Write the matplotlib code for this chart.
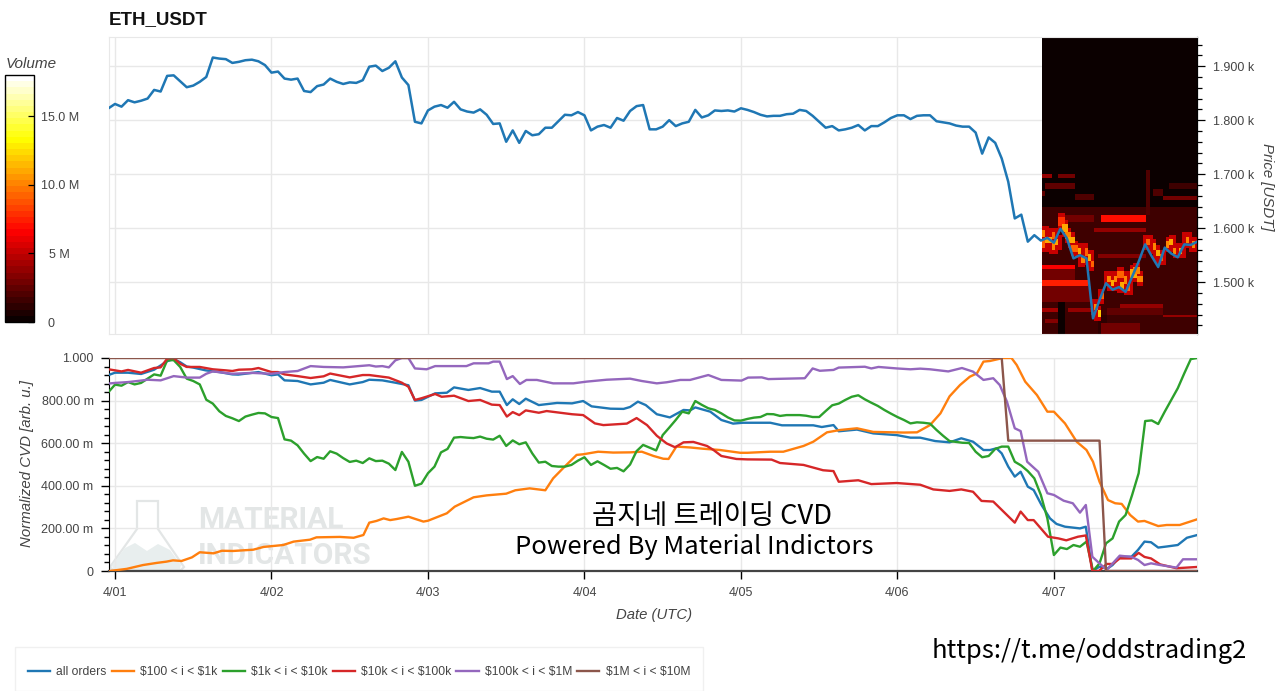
import numpy as np
import matplotlib
matplotlib.use("Agg")
import matplotlib.pyplot as plt
from matplotlib.patches import Polygon, Rectangle
from matplotlib.ticker import FixedLocator, MultipleLocator, NullFormatter

W, H = 1280, 691
plt.rcParams['font.family'] = ['Liberation Sans', 'DejaVu Sans']

# ---------- data ----------
day_ticks = [0, 24, 48, 72, 96, 120, 144]
day_labels = ['4/01', '4/02', '4/03', '4/04', '4/05', '4/06', '4/07']
price_ticks = [1500, 1600, 1700, 1800, 1900]
price_labels = ['1.500 k', '1.600 k', '1.700 k', '1.800 k', '1.900 k']
cvd_ticks = [0, .2, .4, .6, .8, 1.0]
cvd_labels = ['0', '200.00 m', '400.00 m', '600.00 m', '800.00 m', '1.000']
vol_ticks = [0, 5, 10, 15]
vol_labels = ['0', '5 M', '10.0 M', '15.0 M']

price = [1822, 1830, 1825, 1837, 1833, 1836, 1840, 1856, 1853, 1882, 1883, 1872, 1861, 1864, 1871, 1880,
         1916, 1914, 1913, 1906, 1908, 1911, 1912, 1909, 1902, 1888, 1890, 1877, 1875, 1877, 1854, 1852,
         1863, 1866, 1877, 1871, 1867, 1870, 1869, 1874, 1899, 1901, 1891, 1897, 1909, 1879, 1865, 1797,
         1794, 1818, 1825, 1828, 1823, 1834, 1820, 1816, 1814, 1820, 1810, 1793, 1794, 1760, 1781, 1758,
         1780, 1772, 1774, 1786, 1786, 1798, 1810, 1809, 1815, 1809, 1781, 1788, 1791, 1786, 1804, 1799,
         1817, 1826, 1828, 1783, 1783, 1788, 1800, 1789, 1794, 1797, 1819, 1805, 1809, 1818, 1817, 1818,
         1816, 1822, 1819, 1815, 1810, 1807, 1808, 1808, 1811, 1812, 1819, 1817, 1808, 1797, 1786, 1789,
         1781, 1783, 1786, 1791, 1781, 1789, 1789, 1796, 1804, 1809, 1809, 1802, 1808, 1809, 1809, 1798,
         1796, 1794, 1790, 1788, 1788, 1777, 1738, 1768, 1758, 1729, 1686, 1618, 1625, 1575, 1587, 1577,
         1582, 1573, 1599, 1581, 1544, 1550, 1544, 1433, 1467, 1498, 1486, 1491, 1482, 1510, 1538, 1570,
         1548, 1528, 1564, 1553, 1546, 1570, 1569, 1575]
price_hours = list(range(-1, 167))

blue_h = [-1, 0, 2, 4, 6, 8, 9, 10, 11, 12, 13.9, 16, 18, 18.9, 21, 22, 24, 25, 26, 28, 30, 32, 33, 36, 38, 39, 41, 43,
          45, 46, 47, 49.1, 50.9, 52, 54.2, 56, 57.8, 59, 60.1, 61, 62, 63, 65, 67.8, 70.1, 71.8, 73.1, 76, 78, 79,
          80.2, 81.4, 83.1, 85.1, 87.2, 88.2, 89, 91.3, 93, 94.8, 96.3, 100.5, 102.3, 107.1, 108.4, 110.2, 111, 113.8,
          116.3, 119.9, 122, 123.5, 125.8, 128, 129.8, 131.6, 133.2, 134.2, 135.2, 136, 137, 138, 138.9, 140, 140.9,
          142.1, 143.4, 144.4, 145.7, 148, 148.9, 149.9, 151, 152.3, 153, 154.1, 155.9, 156.9, 157.9, 158.9, 160,
          161.3, 163, 164.4, 166]
blue = [.92, .931, .931, .925, .945, .985, .995, .98, .96, .955, .942, .934, .923, .922, .93, .934, .919, .923, .895,
        .892, .876, .884, .897, .876, .887, .898, .895, .884, .872, .80, .803, .834, .837, .862, .85, .859, .842, .842,
        .779, .806, .784, .809, .779, .789, .787, .798, .773, .762, .761, .77, .795, .779, .736, .721, .756, .754, .768,
        .748, .709, .692, .696, .696, .684, .684, .676, .685, .656, .664, .646, .638, .626, .626, .61, .604, .623, .607,
        .568, .568, .576, .552, .49, .443, .466, .396, .38, .31, .247, .221, .208, .2, .208, 0, .02, .013, .028, .067,
        .067, .099, .138, .135, .11, .115, .122, .156, .169]

orange_h = [-.8, 1.8, 4.3, 6.4, 7.9, 8.9, 10.2, 11.8, 13, 15.1, 16.4, 18.1, 21.2, 22.8, 25.8, 27.4, 29.9, 30.9, 34.5,
            36.6, 38.1, 39, 40.1, 41.2, 42.2, 43.2, 45, 47.3, 48, 50.9, 52.1, 55, 57, 60, 61.4, 63.6, 66, 67.2, 68.8,
            70.8, 71.8, 74.1, 76.4, 79, 80.8, 82.6, 84.1, 84.9, 86.1, 88.2, 90.2, 92.8, 95.9, 97, 100.5, 102.5, 105.6,
            107.1, 109.2, 111.2, 113.8, 116.3, 121, 123, 125, 126.6, 128, 129.6, 131.1, 132.2, 133.2, 134.2, 136.2,
            137.5, 138.3, 139.6, 141.4, 143, 144, 145.7, 147.5, 149, 150, 151, 152.3, 153.4, 154.4, 155.7, 156.9,
            157.9, 160, 161.3, 163.3, 166]
orange = [0, .01, .028, .038, .044, .05, .047, .064, .088, .083, .095, .094, .10, .113, .122, .138, .147, .158, .16,
          .156, .169, .227, .235, .247, .239, .244, .255, .232, .236, .271, .302, .346, .355, .363, .379, .388, .379,
          .435, .485, .545, .548, .56, .556, .557, .56, .54, .527, .526, .584, .58, .574, .568, .555, .555, .56, .56,
          .587, .607, .651, .662, .67, .653, .65, .651, .685, .74, .82, .873, .912, .928, .983, .986, 1, 1, .967, .889,
          .826, .748, .748, .693, .607, .568, .513, .419, .333, .318, .315, .263, .232, .235, .211, .216, .216, .243]

green_h = list(range(-1, 167))
green = [.84, .875, .87, .887, .876, .883, .903, .923, .917, .989, .99, .958, .903, .892, .876, .804, .786, .75, .728,
         .717, .704, .725, .734, .742, .74, .723, .718, .618, .612, .59, .551, .516, .535, .527, .562, .551, .53, .512,
         .518, .507, .529, .516, .518, .504, .474, .559, .513, .40, .41, .459, .49, .557, .573, .626, .629, .626, .624,
         .631, .621, .617, .635, .587, .613, .595, .604, .552, .509, .513, .493, .49, .49, .498, .518, .534, .498, .515,
         .498, .48, .484, .468, .50, .563, .592, .579, .566, .638, .673, .709, .748, .74, .798, .78, .764, .756, .74,
         .721, .707, .706, .714, .72, .723, .737, .736, .728, .732, .732, .732, .729, .723, .723, .751, .778, .786,
         .803, .818, .825, .806, .79, .775, .756, .739, .723, .709, .693, .698, .696, .692, .662, .635, .61, .606, .602,
         .601, .56, .534, .54, .573, .584, .584, .513, .495, .469, .435, .357, .247, .075, .11, .103, .122, .114, .138,
         0, .036, .13, .153, .232, .263, .357, .459, .704, .707, .69, .748, .803, .858, .928, .995, 1.0]

red_h = [-1, 0, 1, 2, 4, 6, 7, 8, 9, 10, 11, 13, 15, 17, 18, 19, 21, 22, 24, 25, 26, 28, 30, 32, 33, 36, 38, 39, 42, 44,
         45, 46, 47, 49.1, 50.1, 52, 54.2, 56, 57.8, 59, 60.1, 61, 62, 63, 65, 66.2, 70.1, 71.8, 73.6, 74.9, 78.5, 80,
         81.6, 83.1, 84.6, 85.9, 87.2, 88.7, 90.8, 91.8, 93, 95.3, 97, 100.7, 102, 105.6, 108.6, 110.2, 111, 114, 116,
         119.9, 123.5, 125.5, 128, 129.8, 131.6, 132.9, 134.7, 138, 138.9, 140, 140.9, 143.1, 144.7, 145.9, 147.7, 148.9,
         149.9, 150.9, 152.1, 153, 154.1, 155.9, 157, 157.9, 158.9, 160.3, 162.8, 166]
red = [.947, .942, .937, .944, .931, .953, .956, .997, 1, .973, .958, .958, .947, .942, .939, .945, .947, .953, .934,
       .934, .923, .915, .906, .914, .927, .909, .92, .92, .908, .884, .865, .803, .811, .831, .818, .823, .798, .803,
       .781, .779, .725, .746, .732, .754, .743, .751, .736, .732, .693, .685, .692, .718, .685, .635, .599, .581, .604,
       .606, .587, .568, .54, .526, .524, .523, .507, .498, .473, .469, .419, .426, .408, .413, .405, .383, .376, .383,
       .372, .329, .326, .227, .279, .239, .239, .161, .153, .144, .161, .167, 0, 0, .033, .033, .059, .059, .085, .066,
       .059, .031, .013, .019]

purple_h = [-1, 0, 2, 4, 5, 7, 9, 11, 13, 14, 15, 18, 21, 24, 26, 28, 30, 32, 35, 39, 40, 41, 42, 43, 44, 45, 46, 47.8,
            49.1, 53.9, 55, 57.3, 58, 59, 60.1, 61, 62.1, 63.1, 64.7, 67.2, 70.3, 72.3, 75.4, 79, 80.8, 83.1, 84.6, 86.7,
            88.2, 91, 93, 96.1, 97.1, 99.2, 100.2, 105.8, 107, 108.1, 110.2, 111, 115, 116, 117.1, 119.9, 122, 123.5,
            125, 127.8, 129.9, 131.6, 133.2, 134.7, 135.7, 136.8, 138, 138.9, 139.9, 141.6, 143, 144, 145.5, 146.9, 148,
            148.9, 149.9, 150.7, 152.1, 154.1, 155.9, 156.9, 157.9, 158.9, 160.3, 162.8, 163.8, 166]
purple = [.88, .883, .887, .894, .898, .895, .915, .908, .908, .926, .937, .926, .93, .926, .934, .939, .962, .958, .956,
          .966, .96, .962, .956, .989, 1, 1, .951, .947, .962, .962, .975, .975, .983, .983, .901, .915, .878, .897, .897,
          .881, .881, .889, .898, .903, .892, .881, .886, .897, .897, .92, .897, .894, .908, .909, .901, .905, .951, .94,
          .944, .955, .959, .951, .958, .951, .947, .95, .947, .937, .953, .936, .897, .905, .873, .795, .67, .657, .513,
          .466, .365, .357, .33, .318, .274, .31, .067, .044, .005, .072, .066, .052, .028, .036, .028, .016, .055, .055]

brown_h = [-1, 136, 137, 151, 152, 166]
brown = [1, 1, .612, .612, 0, 0]

# Volume heat map (USD millions): rectangular bands
band_t0 = [142, 142, 144.6, 142, 150.8, 142.1, 144.5, 142.8, 147.2, 145.7, 151.3, 150.3, 142.1, 142.1, 142.1, 142.1, 146.2,
           142.3, 142.9, 154.2, 152, 160.8, 150.5, 159, 160.5, 161.5, 158, 142.1, 151, 158, 158]
band_t1 = [166, 166, 145.5, 166, 152, 143.8, 147.2, 147.2, 150, 150.3, 158, 158, 147.2, 147.2, 149, 149.6, 149.6,
           144.5, 144.7, 160.8, 160.8, 166, 158, 160.5, 166, 166, 158.5, 142.6, 157, 158.3, 158.2]
band_p0 = [1400, 1640, 1400, 1740, 1400, 1692, 1692, 1672, 1652, 1613, 1613, 1593, 1524, 1504, 1493, 1463, 1444,
           1444, 1424, 1452, 1440, 1435, 1544, 1662, 1652, 1674, 1623, 1660, 1405, 1600, 1723]
band_p1 = [1640, 1740, 1463, 1960, 1440, 1702, 1702, 1683, 1663, 1623, 1623, 1602, 1533, 1524, 1504, 1493, 1454,
           1454, 1433, 1462, 1452, 1442, 1553, 1674, 1661, 1683, 1707, 1670, 1423, 1623, 1732]
band_vol = [1.7, 0.4, 0.2, 0.05, 0.9, 3.6, 3.0, 2.4, 2.2, 3.0, 7.0, 4.0, 6.4, 3.0, 7.4, 2.8, 3.8,
            4.2, 3.4, 3.6, 2.6, 4.0, 3.2, 2.2, 2.8, 1.5, 2.2, 2.4, 2.8, 4.4, 18.0]

hot_t = [142.4, 142.4, 143.2, 143.9, 143.9, 144.4, 145.2, 145.7, 146.2, 146.7, 147.2, 147.8, 148.3, 148.8, 149.5, 149.8,
         150.3, 150.8, 151.3, 152.4, 152.9, 153.4, 154.2, 154.4, 154.9, 155.4, 156.2, 156.7, 157.2, 158.5, 159.3, 159.8,
         160.5, 161.6, 162.1, 162.6, 163.4, 164.4, 165.4]
hot_p = [1590, 1572, 1578, 1587, 1565, 1575, 1612, 1600, 1587, 1578, 1562, 1559, 1541, 1556, 1547, 1535,
         1454, 1442, 1473, 1507, 1498, 1507, 1513, 1495, 1504, 1491, 1516, 1522, 1507, 1575, 1565, 1553,
         1547, 1569, 1575, 1559, 1559, 1578, 1569]
hot_vol = [10, 9, 11, 9, 10, 11, 8, 11, 10, 11, 9, 11, 10, 9, 11, 9,
           10, 12, 9, 10, 11, 10, 9, 11, 10, 9, 11, 10, 10, 9, 10, 11,
           9, 10, 11, 10, 11, 10, 10]

series_names = ['all orders', r'\$100 < i < \$1k', r'\$1k < i < \$10k', r'\$10k < i < \$100k',
                r'\$100k < i < \$1M', r'\$1M < i < \$10M']
series_colors = ['#1f77b4', '#ff7f0e', '#2ca02c', '#d62728', '#9467bd', '#8c564b']

# ---------- helpers ----------
def box(x0, y0, x1, y1):
    return [x0 / W, 1 - y1 / H, (x1 - x0) / W, (y1 - y0) / H]

GRID = '#e8e8e8'
TXT = '#444444'
fig = plt.figure(figsize=(W / 100, H / 100), dpi=100, facecolor='white')
ax1 = fig.add_axes(box(109, 37, 1197, 334))
ax2 = fig.add_axes(box(109, 358, 1197, 571))
cax = fig.add_axes(box(5, 75, 34, 322))
XLIM = (-0.92, 165.95)

# ---------- price panel ----------
t_edges = np.arange(142.2, 166.3, 0.5)
p_edges = np.arange(1400, 1962, 4.0)
grid = np.zeros((len(p_edges) - 1, len(t_edges) - 1))
tc = (t_edges[:-1] + t_edges[1:]) / 2
pc = (p_edges[:-1] + p_edges[1:]) / 2
for t0, t1, p0, p1, v in zip(band_t0, band_t1, band_p0, band_p1, band_vol):
    grid[np.ix_((pc >= p0) & (pc < p1), (tc >= t0) & (tc < t1))] = v
for t, p, v in zip(hot_t, hot_p, hot_vol):
    wide = (np.abs(tc - t) <= .6)
    m = (np.abs(tc - t) <= .25)
    halo = np.ix_(np.abs(pc - p) <= 14, wide)
    grid[halo] = np.maximum(grid[halo], 5.0)
for t, p, v in zip(hot_t, hot_p, hot_vol):
    m = (np.abs(tc - t) <= .25)
    grid[np.ix_(np.abs(pc - p) <= 6, m)] = v

cmap = plt.get_cmap('hot', 40)
im = ax1.pcolormesh(t_edges, p_edges, grid, cmap=cmap, vmin=0, vmax=18, zorder=1, rasterized=True)
ax1.plot(price_hours, price, color='#1f77b4', lw=1.8, zorder=3, solid_joinstyle='round')
ax1.set_xlim(*XLIM)
ax1.set_ylim(1404, 1954)
ax1.set_axisbelow(True)
ax1.grid(True, color=GRID, lw=1.0)
ax1.set_xticks(day_ticks)
ax1.tick_params(axis='x', length=0, labelbottom=False)
ax1.yaxis.tick_right()
ax1.set_yticks(price_ticks, price_labels)
ax1.yaxis.set_minor_locator(MultipleLocator(20))
ax1.yaxis.set_minor_formatter(NullFormatter())
ax1.tick_params(axis='y', which='major', length=5.5, width=.9, color='black', labelcolor=TXT, labelsize=9, pad=5.8)
ax1.tick_params(axis='y', which='minor', length=3.8, width=.9, color='black')
for s in ('left', 'top', 'bottom'):
    ax1.spines[s].set_color(GRID)
ax1.spines['right'].set_color('black')
ax1.spines['right'].set_linewidth(.9)

# ---------- CVD panel ----------
series = [(blue_h, blue), (orange_h, orange), (green_h, green), (red_h, red), (purple_h, purple), (brown_h, brown)]
lines = []
for (h, v), c, n in zip(series, series_colors, series_names):
    lines += ax2.plot(h, v, color=c, lw=1.7, label=n, zorder=3, solid_joinstyle='round')
ax2.set_xlim(*XLIM)
ax2.set_ylim(0, 1)
ax2.set_axisbelow(True)
ax2.grid(True, color=GRID, lw=1.0)
ax2.set_xticks(day_ticks, day_labels)
ax2.set_yticks(cvd_ticks, cvd_labels)
ax2.yaxis.set_minor_locator(MultipleLocator(.04))
ax2.yaxis.set_minor_formatter(NullFormatter())
ax2.tick_params(axis='x', length=6, width=1, color='black', labelcolor=TXT, labelsize=9, pad=5.5)
ax2.tick_params(axis='y', which='major', length=5.5, width=1, color='black', labelcolor=TXT, labelsize=9, pad=5.6)
ax2.tick_params(axis='y', which='minor', length=3.8, width=1, color='black')
for s in ('top', 'right'):
    ax2.spines[s].set_color(GRID)
ax2.spines['left'].set_color('black')
ax2.spines['bottom'].set_color('#444444')
ax2.spines['bottom'].set_linewidth(1.6)
ax2.spines['top'].set_zorder(0)

# ---------- colour bar ----------
cb = fig.colorbar(im, cax=cax)
cb.outline.set_edgecolor('black')
cb.outline.set_linewidth(1)
cb.set_ticks(vol_ticks)
cb.set_ticklabels([''] * 4)
cb.ax.tick_params(direction='in', length=4, width=.9, color='black')
cb.ax.yaxis.set_minor_locator(FixedLocator([]))
for val, lab, dx in zip(vol_ticks, vol_labels, [13, 15, 7, 7]):
    cax.annotate(lab, xy=(1, val), xycoords=cax.get_yaxis_transform(), xytext=(dx, -1.5),
                 textcoords='offset pixels', va='center', ha='left', fontsize=9, color=TXT)

# ---------- titles ----------
fig.text(109 / W, 1 - 20 / H, 'ETH_USDT', fontsize=13.5, fontweight='bold', color='#111111', va='center')
fig.text(6 / W, 1 - 64 / H, 'Volume', fontsize=11, style='italic', color=TXT, va='center')
fig.text(654 / W, 1 - 615 / H, 'Date (UTC)', fontsize=10.7, style='italic', color=TXT, va='center', ha='center')
fig.text(27 / W, 1 - 464 / H, 'Normalized CVD [arb. u.]', fontsize=10.8, style='italic', color=TXT,
         rotation=90, va='center', ha='center')
fig.text(1267 / W, 1 - 187 / H, 'Price [USDT]', fontsize=10.8, style='italic', color=TXT,
         rotation=270, va='center', ha='center')

# ---------- watermark ----------
WM = '#e3e6e6'
def fp(pts):
    return [(x / W, 1 - y / H) for x, y in pts]
flask = fp([(137, 501), (158, 501), (158, 529), (184, 567), (181, 570), (113, 570), (110, 567), (137, 529)])
hill = fp([(112, 565), (125, 548), (135, 543), (147, 551), (158, 544), (170, 550), (181, 565), (180, 569), (113, 569)])
fig.add_artist(Polygon(flask, closed=True, facecolor='none', edgecolor=WM, lw=1.6, transform=fig.transFigure, zorder=0.5))
fig.add_artist(Polygon(hill, closed=True, facecolor='#e8eeee', edgecolor='none', transform=fig.transFigure, zorder=0.5))
for a in (ax1, ax2, cax):
    a.set_zorder(1)
ax2.patch.set_alpha(0)
wm_font = ['Liberation Sans Narrow', 'Roboto', 'DejaVu Sans']
fig.text(198 / W, 1 - 520 / H, 'MATERIAL', fontsize=21.5, fontweight='bold', family=wm_font, color=WM, va='center', zorder=0.6)
fig.text(198 / W, 1 - 556 / H, 'INDICATORS', fontsize=21.5, fontweight='bold', family=wm_font, color=WM, va='center', zorder=0.6)

# ---------- overlay texts ----------
kr = ['Noto Sans CJK KR', 'DejaVu Sans']
fig.text(712 / W, 1 - 517 / H, '곰지네 트레이딩 CVD', fontsize=19.7, fontweight='medium', family=kr, color='black', va='center', ha='center', zorder=5)
fig.text(694.5 / W, 1 - 547 / H, 'Powered By Material Indictors', fontsize=18.4, fontweight='medium', family=kr, color='black', va='center', ha='center', zorder=5)
fig.text(1089.5 / W, 1 - 651 / H, 'https://t.me/oddstrading2', fontsize=18.4, fontweight='medium', family=kr, color='black', va='center', ha='center', zorder=5)

# ---------- legend ----------
fig.add_artist(Rectangle((15 / W, 0), 688 / W, 44 / H, transform=fig.transFigure, facecolor='white',
                         edgecolor='#f0f0f0', lw=1))
fig.legend(handles=lines, loc='center left', bbox_to_anchor=(28 / W, 1 - 672 / H), ncol=6, frameon=False,
           fontsize=8.7, borderpad=0, borderaxespad=0, handlelength=1.85, handletextpad=.5, columnspacing=.42,
           labelcolor=TXT)

fig.savefig('out.png', dpi=100)
